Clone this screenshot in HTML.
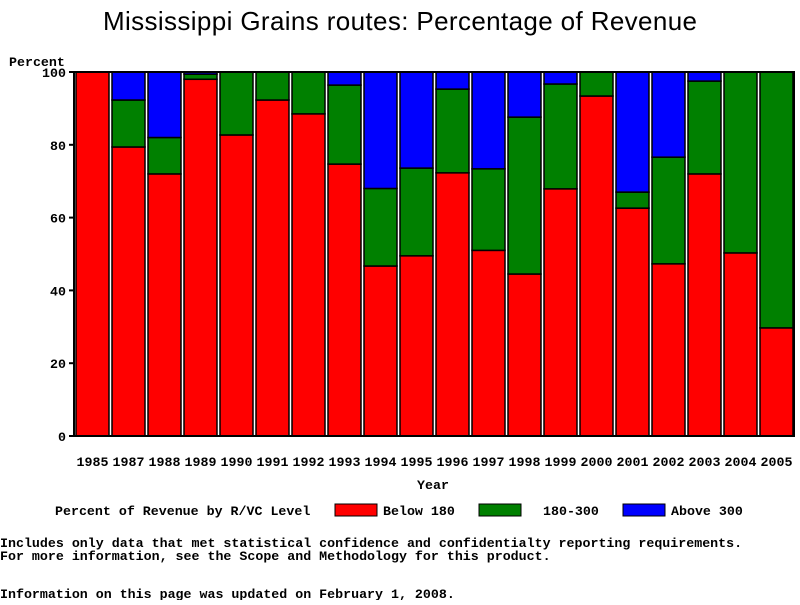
<!DOCTYPE html>
<html><head><meta charset="utf-8"><style>
body{margin:0;background:#fff;}
svg text{font-family:"Liberation Mono",monospace;font-weight:bold;font-size:13.3px;fill:#000;}
</style></head><body>
<svg id="c" width="800" height="600" xmlns="http://www.w3.org/2000/svg">
<text x="400" y="30" text-anchor="middle" textLength="594" style="font-family:'Liberation Sans',sans-serif;font-weight:normal;font-size:26px">Mississippi Grains routes: Percentage of Revenue</text>
<text x="9" y="66">Percent</text>
<text x="433" y="489" text-anchor="middle">Year</text>
<g id="bars"></g><g id="axes"></g>
<g>
<text x="55" y="515">Percent of Revenue by R/VC Level</text>
<rect x="335" y="504" width="42" height="12" fill="#ff0000" stroke="#000"/>
<text x="383" y="515">Below 180</text>
<rect x="479" y="504" width="42" height="12" fill="#008000" stroke="#000"/>
<text x="543" y="515">180-300</text>
<rect x="623" y="504" width="42" height="12" fill="#0000ff" stroke="#000"/>
<text x="671" y="515">Above 300</text>
</g>
<text x="0" y="547">Includes only data that met statistical confidence and confidentialty reporting requirements.</text>
<text x="0" y="560">For more information, see the Scope and Methodology for this product.</text>
<text x="0" y="598">Information on this page was updated on February 1, 2008.</text>
</svg>
<script>
const years=["1985","1987","1988","1989","1990","1991","1992","1993","1994","1995","1996","1997","1998","1999","2000","2001","2002","2003","2004","2005"];
const below180=[100,79.4,72,98,82.7,92.3,88.5,74.7,46.7,49.5,72.3,51,44.5,67.9,93.4,62.6,47.3,72,50.3,29.7];
const mid180to300=[0,12.9,10,1.4,17.3,7.7,11.5,21.7,21.3,24.1,23,22.4,43.1,28.8,6.6,4.4,29.3,25.5,49.7,70.3];
const above300=[0,7.7,18,0.6,0,0,0,3.6,32,26.4,4.7,26.6,12.4,3.3,0,33,23.4,2.5,0,0];
const yTicks=[0,20,40,60,80,100];
const NS="http://www.w3.org/2000/svg";
const y0=436,y1=72,xl=74,xr=794;
const yS=v=>y0-(v/100)*(y0-y1);
const xS=i=>76+i*36;
const bw=33;
const bars=document.getElementById('bars'),axes=document.getElementById('axes');
function mk(tag,at,p){const e=document.createElementNS(NS,tag);for(const k in at)e.setAttribute(k,at[k]);p.appendChild(e);return e;}
const series=[[below180,'#ff0000','below-180'],[mid180to300,'#008000','180-300'],[above300,'#0000ff','above-300']];
years.forEach((yr,i)=>{
  let cum=0;
  series.forEach(([arr,col,nm])=>{
    const v=arr[i];
    if(v>0){
      const r=mk('rect',{x:xS(i),y:yS(cum+v),width:bw,height:yS(cum)-yS(cum+v),fill:col,stroke:'#000','stroke-width':1.5},bars);
      
      
    }
    cum+=v;
  });
  const t=mk('text',{x:xS(i)+bw/2,y:466,'text-anchor':'middle'},axes);t.textContent=yr;
  
  
});
const ya=mk('path',{d:`M${xl},${y1}V${y0}H${xr}V${y1}H${xl}`,fill:'none',stroke:'#000','stroke-width':2},axes);


yTicks.forEach(v=>{
  const l=mk('line',{x1:xl-5,x2:xl,y1:yS(v),y2:yS(v),stroke:'#000','stroke-width':2},axes);
  
  
  const t=mk('text',{x:xl-8,y:yS(v)+5,'text-anchor':'end'},axes);t.textContent=v;
  
  
});
</script>
</body></html>
